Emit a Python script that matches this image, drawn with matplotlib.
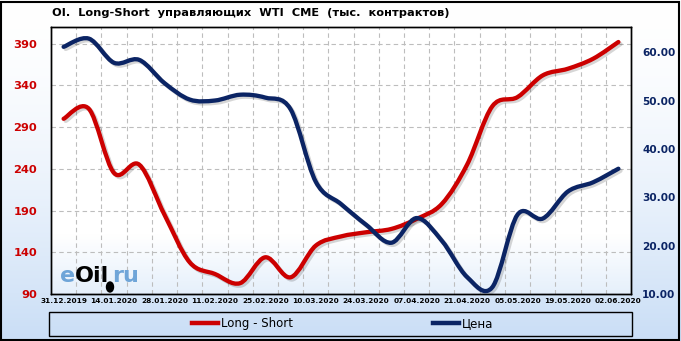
import numpy as np
import matplotlib
matplotlib.use("Agg")
import matplotlib.pyplot as plt
import matplotlib.patheffects as pe
from matplotlib.path import Path
from matplotlib.patches import PathPatch, Rectangle, Ellipse
from matplotlib.lines import Line2D

# weekly data, 31.12.2019 - 02.06.2020
dates = ["31.12.2019", "07.01.2020", "14.01.2020", "21.01.2020", "28.01.2020",
         "04.02.2020", "11.02.2020", "18.02.2020", "25.02.2020", "03.03.2020",
         "10.03.2020", "17.03.2020", "24.03.2020", "31.03.2020", "07.04.2020",
         "14.04.2020", "21.04.2020", "28.04.2020", "05.05.2020", "12.05.2020",
         "19.05.2020", "26.05.2020", "02.06.2020"]
long_short = [300, 312, 235, 245, 185, 128, 114, 103, 134, 110, 148, 159,
              164, 168, 180, 198, 245, 315, 326, 352, 360, 372, 392]
price = [61.1, 62.8, 57.8, 58.4, 53.6, 50.2, 50.0, 51.2, 50.6, 48.2, 33.2, 28.6,
         24.3, 20.6, 25.7, 21.0, 13.5, 11.4, 26.4, 25.6, 31.2, 33.1, 35.9]

left_ticks = [90, 140, 190, 240, 290, 340, 390]
right_ticks = [10, 20, 30, 40, 50, 60]

RED = "#cc0000"
NAVY = "#0b2464"


def smooth_path(xs, ys):
    # excel-like smoothed line: bezier segments through the data points
    pts = np.column_stack([xs, ys]).astype(float)
    n = len(pts)
    verts = [pts[0]]
    codes = [Path.MOVETO]
    for i in range(n - 1):
        p0 = pts[max(i - 1, 0)]
        p1 = pts[i]
        p2 = pts[i + 1]
        p3 = pts[min(i + 2, n - 1)]
        verts += [p1 + (p2 - p0) / 6, p2 - (p3 - p1) / 6, p2]
        codes += [Path.CURVE4] * 3
    return Path(verts, codes)


W, H = 681, 341
fig = plt.figure(figsize=(W / 100, H / 100), dpi=100)

# figure background gradient
bg = fig.add_axes([0, 0, 1, 1], zorder=-10)
t = np.linspace(0, 1, 256) ** 1.6
top = np.array([1.0, 1.0, 1.0])
bot = np.array([0.79, 0.87, 0.965])
grad = (top[None, :] * (1 - t[:, None]) + bot[None, :] * t[:, None])[:, None, :]
bg.imshow(grad, aspect="auto", extent=[0, 1, 0, 1])
bg.set_axis_off()

ax = fig.add_axes([51 / W, 1 - 294 / H, 580 / W, 267 / H])
x = np.arange(len(dates))

# plot area gradient (white, light blue near the bottom)
yf = np.linspace(1, 0, 256)
f = np.clip((0.22 - yf) / 0.22, 0, 1)
pbot = np.array([0.9, 0.94, 0.985])
pgrad = (top[None, :] * (1 - f[:, None]) + pbot[None, :] * f[:, None])[:, None, :]
ax.imshow(pgrad, aspect="auto", extent=[0, 1, 0, 1], transform=ax.transAxes, zorder=0)

shadow = [pe.SimpleLineShadow(offset=(1.5, -1.5), shadow_color="black", alpha=0.16), pe.Normal()]

ax.add_patch(PathPatch(smooth_path(x, long_short), facecolor="none", edgecolor=RED,
                       lw=3.1, capstyle="round", joinstyle="round",
                       path_effects=shadow, zorder=3))
ax.set_xlim(-0.5, len(dates) - 0.5)
ax.set_ylim(90, 410)
ax.set_yticks(left_ticks)
ax.set_yticklabels([str(v) for v in left_ticks], color=RED, fontsize=8.2, fontweight="bold")
ax.set_xticks(x[::2])
ax.set_xticklabels(dates[::2], fontsize=5.3, fontweight="bold")
ax.set_xticks(np.arange(0.5, len(dates) - 1, 1), minor=True)
ax.grid(axis="y", which="major", color="#bdbdbd", ls=(0, (4, 3)), lw=0.8)
ax.grid(axis="x", which="minor", color="#bdbdbd", ls=(0, (4, 3)), lw=0.8)
ax.set_axisbelow(True)
ax.tick_params(which="both", length=0)
ax.tick_params(axis="y", pad=10)
ax.tick_params(axis="x", pad=3)
for s in ax.spines.values():
    s.set_color("black")
    s.set_linewidth(1)

ax2 = ax.twinx()
ax2.add_patch(PathPatch(smooth_path(x, price), facecolor="none", edgecolor=NAVY,
                        lw=3.1, capstyle="round", joinstyle="round",
                        path_effects=shadow, zorder=3))
ax2.set_ylim(10, 65.2)
ax2.set_yticks(right_ticks)
ax2.set_yticklabels([f"{v:.2f}" for v in right_ticks], color=NAVY, fontsize=7.6,
                    fontweight="bold")
ax2.tick_params(length=0, pad=8)
for s in ax2.spines.values():
    s.set_color("black")
    s.set_linewidth(1)

fig.text(52 / W, 1 - 13 / H, "OI.  Long-Short  управляющих  WTI  CME  (тыс.  контрактов)",
         fontsize=8.2, fontweight="bold", va="center", ha="left")

# watermark
fig.text(60 / W, 1 - 282 / H, "e", fontsize=16, fontweight="semibold", color="#6fa5d8", va="baseline")
fig.text(75 / W, 1 - 282 / H, "Oil", fontsize=16, fontweight="bold", color="black", va="baseline")
fig.text(112 / W, 1 - 282 / H, "ru", fontsize=16, fontweight="semibold", color="#6fa5d8", va="baseline")
fig.add_artist(Ellipse((110 / W, 1 - 287 / H), 7 / W, 10 / H, transform=fig.transFigure,
                       color="black", zorder=4))

# legend
fig.add_artist(Rectangle((49 / W, 1 - 336 / H), 583 / W, 24 / H, transform=fig.transFigure,
                         fill=False, edgecolor="black", lw=1))
handles = [Line2D([], [], color=RED, lw=3.2), Line2D([], [], color=NAVY, lw=3.2)]
fig.legend(handles, ["Long - Short", "Цена"], loc="center", bbox_to_anchor=(0.503, 1 - 324 / H),
           ncol=2, frameon=False, fontsize=8.5, handlelength=2.2, handletextpad=0.2,
           columnspacing=11.9)

# outer frame
fig.add_artist(Rectangle((1 / W, 1 / H), 678 / W, 338 / H, transform=fig.transFigure,
                         fill=False, edgecolor="black", lw=1.5))

fig.savefig("out.png", dpi=100)
